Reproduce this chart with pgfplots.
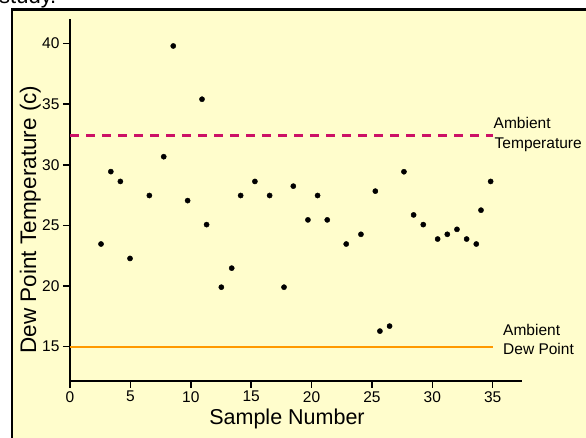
\documentclass[border=0pt]{standalone}
\usepackage{fontspec}
\setmainfont{Liberation Sans}
\usepackage{pgfplots}
\pgfplotsset{compat=1.18}
\definecolor{panel}{HTML}{FFFDCC}
\definecolor{ambT}{HTML}{CC1166}
\definecolor{ambD}{HTML}{FF9900}
\begin{document}
\begin{tikzpicture}[x=1pt,y=1pt]
\useasboundingbox (0,0) rectangle (586,438);
\clip (0,0) rectangle (586,438);
\fill[white] (0,0) rectangle (586,438);
\draw[line width=2.3pt, fill=panel] (12.2,-20) rectangle (620,428.5);
\node[anchor=base west, inner sep=0, font=\fontsize{22}{26}\selectfont] at (-1,434) {study.};
\begin{axis}[
  at={(70pt,57.3pt)}, anchor=south west,
  scale only axis, width=451.7pt, height=361.4pt,
  xmin=0, xmax=37.4, ymin=12.2, ymax=42,
  axis x line=bottom, axis y line=left,
  axis line style={line width=2pt, -},
  xtick={0,5,...,35}, ytick={15,20,...,40},
  tick align=outside, major tick length=7pt,
  tick style={line width=1.5pt, black},
  ticklabel style={font=\fontsize{15.5}{18}\selectfont},
  /pgf/number format/assume math mode=true,
  clip=false,
]
\addplot[ambT, line width=2.7pt, dash pattern=on 9pt off 7pt] coordinates {(0,32.43) (35,32.43)};
\addplot[ambD, line width=1.7pt] coordinates {(0,15) (35,15)};
\addplot[only marks, mark=*, mark size=2.6pt, black] coordinates {
  (2.57,23.47) (3.38,29.44) (4.17,28.63) (4.97,22.28) (6.57,27.47)
  (7.76,30.67) (8.55,39.80) (9.74,27.05) (10.93,35.41) (11.31,25.07)
  (12.53,19.91) (13.39,21.48) (14.13,27.47) (15.31,28.63) (16.53,27.47)
  (17.72,19.91) (18.49,28.24) (19.70,25.46) (20.50,27.47) (21.30,25.46)
  (22.87,23.47) (24.09,24.27) (25.28,27.83) (25.66,16.29) (26.46,16.70)
  (27.65,29.43) (28.45,25.87) (29.25,25.07) (30.44,23.88) (31.24,24.27)
  (32.04,24.68) (32.84,23.88) (33.64,23.47) (34.03,26.26) (34.83,28.63)
};
\end{axis}
\node[anchor=base, inner sep=0, font=\fontsize{21.5}{25}\selectfont] at (287,13) {Sample Number};
\node[anchor=base, inner sep=0, rotate=90, font=\fontsize{22.5}{26}\selectfont] at (36,218.5) {Dew Point Temperature (c)};
\begin{scope}[every node/.style={anchor=base west, inner sep=0, font=\fontsize{15.5}{18}\selectfont}]
\node at (493.5,309.8) {Ambient};
\node at (494.5,289.8) {Temperature};
\node at (503,102.8) {Ambient};
\node at (503,83.8) {Dew Point};
\end{scope}
\end{tikzpicture}
\end{document}
